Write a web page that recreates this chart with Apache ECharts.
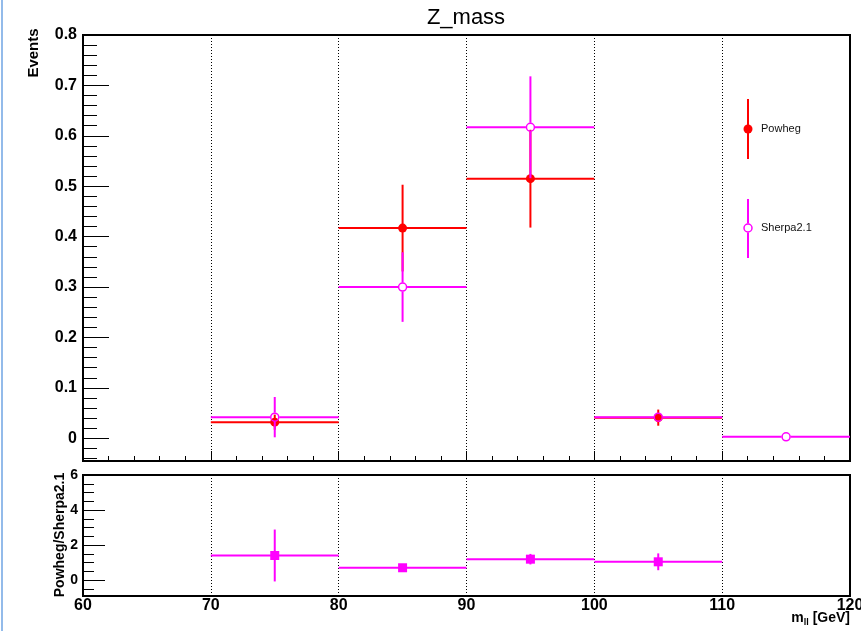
<!DOCTYPE html>
<html><head><meta charset="utf-8">
<script src="https://cdn.jsdelivr.net/npm/echarts@6/dist/echarts.min.js"></script>
<style>html,body{margin:0;padding:0;background:#fff;}#c{width:861px;height:631px;}</style>
</head><body><div id="c"></div>
<script>
// ---- data ----
const binEdges   = [60, 70, 80, 90, 100, 110, 120];
const powheg     = [null, 0.032, 0.417, 0.515, 0.041, null];
const powhegErr  = [null, 0.015, 0.086, 0.097, 0.016, null];
const sherpa     = [null, 0.042, 0.300, 0.617, 0.042, 0.003];
const sherpaErr  = [null, 0.040, 0.069, 0.101, 0.008, 0.002];
const ratio      = [null, 1.41, 0.71, 1.20, 1.05, null];
const ratioErr   = [null, 1.48, 0.15, 0.30, 0.48, null];
const xTicks     = [60, 70, 80, 90, 100, 110, 120];
const yTicksTop  = [0, 0.1, 0.2, 0.3, 0.4, 0.5, 0.6, 0.7, 0.8];
const yTicksRatio = [0, 2, 4, 6];
const seriesNames = ['Powheg', 'Sherpa2.1'];
const titleText = 'Z_mass';

// ---- helpers ----
function buildErr(vals, errs) {
  const out = [];
  for (let i = 0; i < vals.length; i++) {
    if (vals[i] === null) continue;
    const c = (binEdges[i] + binEdges[i + 1]) / 2;
    const h = (binEdges[i + 1] - binEdges[i]) / 2;
    out.push([c, vals[i], errs[i], h]);
  }
  return out;
}
function buildPts(vals) {
  const out = [];
  for (let i = 0; i < vals.length; i++) {
    if (vals[i] === null) continue;
    out.push([(binEdges[i] + binEdges[i + 1]) / 2, vals[i]]);
  }
  return out;
}
function minorList(lo, hi, step, n) {
  const out = [];
  for (let k = 0; k <= n; k++) { const v = +(lo + k * step).toFixed(4); if (v <= hi + 1e-9) out.push(v); }
  return out;
}
function errRenderer(color, gap) {
  return function (params, api) {
    const x = api.value(0), y = api.value(1), e = api.value(2), h = api.value(3);
    const c = api.coord([x, y]);
    const l = api.coord([x - h, y])[0];
    const r = api.coord([x + h, y])[0];
    const t = api.coord([x, y + e])[1];
    const b = api.coord([x, y - e])[1];
    const st = { stroke: color, lineWidth: 2 };
    const ch = [];
    ch.push({ type: 'line', shape: { x1: l, y1: c[1], x2: c[0] - gap, y2: c[1] }, style: st });
    ch.push({ type: 'line', shape: { x1: c[0] + gap, y1: c[1], x2: r, y2: c[1] }, style: st });
    if (c[1] - t > gap) ch.push({ type: 'line', shape: { x1: c[0], y1: t, x2: c[0], y2: c[1] - gap }, style: st });
    if (b - c[1] > gap) ch.push({ type: 'line', shape: { x1: c[0], y1: c[1] + gap, x2: c[0], y2: b }, style: st });
    return { type: 'group', children: ch };
  };
}

const RED = '#ff0000', MAG = '#ff00ff';
const FONT = '"Liberation Sans", Arial, Helvetica, sans-serif';

const chart = echarts.init(document.getElementById('c'), null, { renderer: 'canvas' });

const tickStyle = { color: '#000', width: 1 };
const dotted = { show: true, lineStyle: { color: '#000', type: [1, 2], width: 1 } };
const noLine = { show: false, onZero: false };

const option = {
  animation: false,
  backgroundColor: '#fff',
  grid: [
    { left: 83, top: 35, width: 767, height: 426, show: true, borderColor: '#000', borderWidth: 2, backgroundColor: 'transparent', outerBoundsMode: 'none', containLabel: false },
    { left: 83, top: 475, width: 767, height: 121, show: true, borderColor: '#000', borderWidth: 2, backgroundColor: 'transparent', outerBoundsMode: 'none', containLabel: false }
  ],
  xAxis: [
    { gridIndex: 0, type: 'value', min: 60, max: 120, interval: 10,
      axisLine: noLine,
      axisTick: { show: true, inside: true, length: 10, lineStyle: tickStyle },
      minorTick: { show: true, splitNumber: 5, length: 5, lineStyle: tickStyle },
      axisLabel: { show: false }, splitLine: dotted },
    { gridIndex: 1, type: 'value', min: 60, max: 120, interval: 10,
      axisLine: noLine, axisTick: { show: false },
      axisLabel: { show: true, margin: 2, color: '#000', fontSize: 16, fontWeight: 'bold', fontFamily: FONT,
        customValues: xTicks },
      splitLine: dotted }
  ],
  yAxis: [
    { gridIndex: 0, type: 'value', min: -0.045, max: 0.8, position: 'left',
      axisLine: noLine,
      axisTick: { show: true, inside: true, length: 26, lineStyle: tickStyle, customValues: yTicksTop },
      axisLabel: { show: true, margin: 6, color: '#000', fontSize: 16, fontWeight: 'bold', fontFamily: FONT,
        customValues: yTicksTop, formatter: v => (Math.abs(v) < 1e-9 ? '0' : (+v).toFixed(1)) },
      splitLine: { show: false } },
    { gridIndex: 0, type: 'value', min: -0.045, max: 0.8, position: 'left',
      axisLine: noLine,
      axisTick: { show: true, inside: true, length: 14, lineStyle: tickStyle, customValues: minorList(-0.04, 0.8, 0.02, 42) },
      axisLabel: { show: false }, splitLine: { show: false } },
    { gridIndex: 1, type: 'value', min: -0.9, max: 6, position: 'left',
      axisLine: noLine,
      axisTick: { show: true, inside: true, length: 22, lineStyle: tickStyle, customValues: yTicksRatio },
      axisLabel: { show: true, margin: 5, color: '#000', fontSize: 14, fontWeight: 'bold', fontFamily: FONT,
        customValues: yTicksRatio },
      splitLine: { show: false } },
    { gridIndex: 1, type: 'value', min: -0.9, max: 6, position: 'left',
      axisLine: noLine,
      axisTick: { show: true, inside: true, length: 11, lineStyle: tickStyle, customValues: minorList(-0.5, 6, 0.5, 13) },
      axisLabel: { show: false }, splitLine: { show: false } }
  ],
  series: [
    { name: seriesNames[0] + ' err', type: 'custom', xAxisIndex: 0, yAxisIndex: 0,
      renderItem: errRenderer(RED, 0), data: buildErr(powheg, powhegErr), encode: { x: 0, y: 1 }, z: 3 },
    { name: seriesNames[0], type: 'scatter', xAxisIndex: 0, yAxisIndex: 0, symbol: 'circle', symbolSize: 9,
      itemStyle: { color: RED, opacity: 1 }, data: buildPts(powheg), z: 4 },
    { name: seriesNames[1] + ' err', type: 'custom', xAxisIndex: 0, yAxisIndex: 0,
      renderItem: errRenderer(MAG, 4.5), data: buildErr(sherpa, sherpaErr), encode: { x: 0, y: 1 }, z: 5 },
    { name: seriesNames[1], type: 'scatter', xAxisIndex: 0, yAxisIndex: 0, symbol: 'circle', symbolSize: 8,
      itemStyle: { color: 'rgba(0,0,0,0)', borderColor: MAG, borderWidth: 1.5, opacity: 1 }, data: buildPts(sherpa), z: 6 },
    { name: 'ratio err', type: 'custom', xAxisIndex: 1, yAxisIndex: 2,
      renderItem: errRenderer(MAG, 0), data: buildErr(ratio, ratioErr), encode: { x: 0, y: 1 }, z: 5 },
    { name: 'ratio', type: 'scatter', xAxisIndex: 1, yAxisIndex: 2, symbol: 'rect', symbolSize: 9,
      itemStyle: { color: MAG, opacity: 1 }, data: buildPts(ratio), z: 6 }
  ],
  graphic: [
    { type: 'rect', shape: { x: 1, y: 0, width: 2, height: 631 }, style: { fill: '#93bbea' }, silent: true },
    { type: 'text', x: 466, y: 18, style: { text: titleText, fill: '#000', font: '22px ' + FONT, textAlign: 'center', textVerticalAlign: 'middle' } },
    { type: 'text', x: 34, y: 53, rotation: Math.PI / 2, style: { text: 'Events', fill: '#000', font: 'bold 15px ' + FONT, textAlign: 'center', textVerticalAlign: 'middle' } },
    { type: 'text', x: 60, y: 535, rotation: Math.PI / 2, style: { text: 'Powheg/Sherpa2.1', fill: '#000', font: 'bold 14px ' + FONT, textAlign: 'center', textVerticalAlign: 'middle' } },
    { type: 'text', x: 850, y: 618, style: {
        text: '{a|m}{b|ll}{a| [GeV]}', textAlign: 'right', textVerticalAlign: 'middle',
        rich: {
          a: { fontSize: 14, fontWeight: 'bold', fontFamily: FONT, fill: '#000', color: '#000', lineHeight: 18, verticalAlign: 'middle' },
          b: { fontSize: 9, fontWeight: 'bold', fontFamily: FONT, fill: '#000', color: '#000', lineHeight: 9, verticalAlign: 'bottom' }
        } } },
    // legend
    { type: 'line', shape: { x1: 748, y1: 99, x2: 748, y2: 159 }, style: { stroke: RED, lineWidth: 2 } },
    { type: 'circle', shape: { cx: 748, cy: 129, r: 4.5 }, style: { fill: RED } },
    { type: 'text', x: 761, y: 129, style: { text: seriesNames[0], fill: '#111', font: '11px ' + FONT, textVerticalAlign: 'middle' } },
    { type: 'line', shape: { x1: 748, y1: 199, x2: 748, y2: 223.5 }, style: { stroke: MAG, lineWidth: 2 } },
    { type: 'line', shape: { x1: 748, y1: 232.5, x2: 748, y2: 258 }, style: { stroke: MAG, lineWidth: 2 } },
    { type: 'circle', shape: { cx: 748, cy: 228, r: 4 }, style: { fill: 'rgba(0,0,0,0)', stroke: MAG, lineWidth: 1.5 } },
    { type: 'text', x: 761, y: 228, style: { text: seriesNames[1], fill: '#111', font: '11px ' + FONT, textVerticalAlign: 'middle' } }
  ]
};
chart.setOption(option);
</script>
</body></html>
